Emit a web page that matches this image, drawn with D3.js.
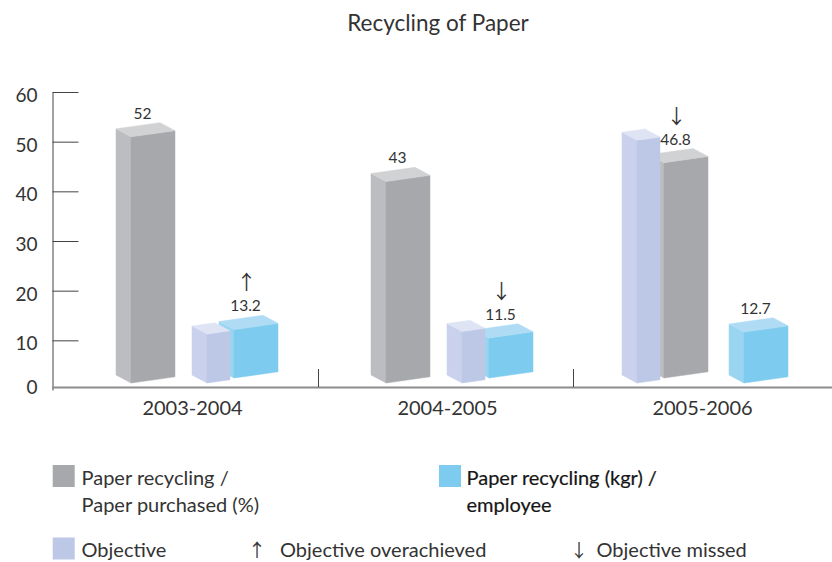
<!DOCTYPE html>
<html>
<head>
<meta charset="utf-8">
<script src="https://cdn.jsdelivr.net/npm/d3@7"></script>
<style>
  html, body { margin: 0; padding: 0; background: #fff; }
  svg { display: block; font-family: Lato, "DejaVu Sans", sans-serif; }
</style>
</head>
<body>
<svg id="chart" width="832" height="562"></svg>
<script>
// ---- data ----
const years = ["2003-2004", "2004-2005", "2005-2006"];
const paperPct = [52, 43, 46.8];        // paper recycling / paper purchased (%)
const paperKg = [13.2, 11.5, 12.7];     // paper recycling (kgr) / employee
const objectiveSeries = ["kg", "kg", "pct"];   // series each year's objective refers to
const objectiveValue = [12, 12.5, 51];
const yTicks = [0, 10, 20, 30, 40, 50, 60];

// ---- styles ----
const palette = {
  pct: { front: "#a7a8ab", side: "#bcbdc0", top: "#d1d2d4" },
  kg:  { front: "#7dcbee", side: "#99d5f1", top: "#afdcf4" },
  obj: { front: "#bdc8e6", side: "#c9d1ec", top: "#dfe4f5" }
};
const textColor = "#333";
const arrowFont = "'Noto Sans CJK SC', 'DejaVu Sans', sans-serif";

const svg = d3.select("#chart");
const W = 832, H = 562;
svg.append("rect").attr("width", W).attr("height", H).attr("fill", "#fff");

// ---- scales ----
const x = d3.scaleBand().domain(years).range([63, 828]);
const y = d3.scaleLinear().domain([0, 60]).range([390, 92]);

// box geometry (pseudo-3D)
const slope = 0.14;            // front face rises to the right
const depthX = 15, depthY = 8; // receding depth toward upper-left
const mainW = 44, objW = 23, gap = 4;
const floorLift = 7, backLift = 5;

// ---- title ----
svg.append("text")
  .attr("x", 438).attr("y", 31)
  .attr("text-anchor", "middle")
  .attr("font-size", 22.5).attr("fill", textColor)
  .text("Recycling of Paper");

// ---- axis ----
const axis = svg.append("g")
  .attr("transform", "translate(52.5,0)")
  .call(d3.axisLeft(y).tickValues(yTicks).tickSize(-26).tickPadding(15).tickSizeOuter(0));
axis.select(".domain").attr("stroke", "#444").attr("stroke-width", 1);
axis.selectAll(".tick line").attr("stroke", "#444").attr("stroke-width", 1)
  .filter(d => d === 0).remove();
axis.selectAll(".tick text")
  .attr("font-family", "Lato, sans-serif")
  .attr("font-size", 19).attr("fill", textColor)
  .attr("dy", d => d === 0 ? "0.18em" : "0.5em");

// baseline
svg.append("line")
  .attr("x1", 52).attr("x2", W)
  .attr("y1", 387.5).attr("y2", 387.5)
  .attr("stroke", "#8c8c8c").attr("stroke-width", 2);

// separators between years
svg.selectAll("line.sep").data(years.slice(1)).join("line")
  .attr("class", "sep")
  .attr("x1", d => x(d) + 0.5).attr("x2", d => x(d) + 0.5)
  .attr("y1", 369).attr("y2", 387)
  .attr("stroke", "#444").attr("stroke-width", 1);

// category labels
svg.selectAll("text.cat").data(years).join("text")
  .attr("class", "cat")
  .attr("x", d => x(d) + x.bandwidth() / 2 + 2)
  .attr("y", 415)
  .attr("text-anchor", "middle")
  .attr("font-size", 20).attr("fill", textColor)
  .text(d => d);

// ---- build boxes ----
const boxes = [];
years.forEach((yr, i) => {
  const band = x(yr);
  // percentage cluster
  const px = band + 64;
  if (objectiveSeries[i] === "pct") {
    boxes.push({ kind: "obj", value: objectiveValue[i], xf: px, w: objW, back: false });
    boxes.push({ kind: "pct", value: paperPct[i], xf: px + objW + gap, w: mainW, back: true,
                 label: true, arrow: paperPct[i] >= objectiveValue[i] ? "\u2191" : "\u2193" });
  } else {
    boxes.push({ kind: "pct", value: paperPct[i], xf: px + gap, w: mainW, back: false, label: true });
  }
  // kg cluster
  const kx = band + 171;
  if (objectiveSeries[i] === "kg") {
    boxes.push({ kind: "obj", value: objectiveValue[i], xf: kx - gap - objW, w: objW, back: false });
    boxes.push({ kind: "kg", value: paperKg[i], xf: kx, w: mainW, back: true,
                 label: true, arrow: paperKg[i] >= objectiveValue[i] ? "\u2191" : "\u2193" });
  } else {
    boxes.push({ kind: "kg", value: paperKg[i], xf: kx, w: mainW, back: false, label: true });
  }
});

// corner points of each box
boxes.forEach(b => {
  const yb = y(0) - floorLift - (b.back ? backLift : 0);
  const yt = y(b.value) + slope * b.w / 2 + depthY / 2 - 2;
  const FLB = [b.xf, yb], FRB = [b.xf + b.w, yb - slope * b.w];
  const FLT = [b.xf, yt], FRT = [b.xf + b.w, yt - slope * b.w];
  const sh = p => [p[0] - depthX, p[1] - depthY];
  b.faces = {
    side: [sh(FLB), FLB, FLT, sh(FLT)],
    front: [FLB, FRB, FRT, FLT],
    top: [FLT, FRT, sh(FRT), sh(FLT)]
  };
  b.cx = (sh(FLT)[0] + FRT[0]) / 2 - 3;
});

// back boxes first so the front ones overlap them
const order = boxes.slice().sort((a, b) => (b.back ? 1 : 0) - (a.back ? 1 : 0));
const line = d3.line();
const bg = svg.append("g");
order.forEach(b => {
  const g = bg.append("g");
  ["side", "front", "top"].forEach(f => {
    g.append("path")
      .attr("d", line(b.faces[f]) + "Z")
      .attr("fill", palette[b.kind][f])
      .attr("stroke", palette[b.kind][f])
      .attr("stroke-width", 0.5)
      .attr("stroke-linejoin", "round");
  });
});

// value labels and outcome arrows
const labelled = boxes.filter(b => b.label);
svg.selectAll("text.val").data(labelled).join("text")
  .attr("class", "val")
  .attr("x", b => b.cx).attr("y", b => y(b.value) - 13)
  .attr("text-anchor", "middle")
  .attr("font-size", 15.5).attr("fill", textColor)
  .text(b => b.value);

svg.selectAll("text.arrow").data(labelled.filter(b => b.arrow)).join("text")
  .attr("class", "arrow")
  .attr("x", b => b.cx + 1).attr("y", b => y(b.value) - 34)
  .attr("text-anchor", "middle")
  .attr("font-family", arrowFont)
  .attr("font-size", 20).attr("fill", textColor)
  .text(b => b.arrow);

// ---- legend ----
const legend = svg.append("g").attr("font-size", 20);
const swatch = (px, py, c) => legend.append("rect")
  .attr("x", px).attr("y", py).attr("width", 22).attr("height", 22).attr("fill", c);
const label = (px, py, t, strong) => {
  const tx = legend.append("text")
    .attr("x", px).attr("y", py).attr("fill", strong ? "#161616" : textColor).text(t);
  if (strong) tx.attr("stroke", "#161616").attr("stroke-width", 0.2);
  return tx;
};

swatch(52.7, 465, palette.pct.front);
label(81.5, 485, "Paper recycling /");
label(81.5, 511.5, "Paper purchased (%)");

swatch(439, 465, palette.kg.front);
label(466.5, 485, "Paper recycling (kgr) /", true);
label(466.5, 511.5, "employee", true);

const rowY = 557;
swatch(52.7, rowY - 19.5, palette.obj.front);
label(81.5, rowY, "Objective");

legend.append("text").attr("x", 257).attr("y", rowY)
  .attr("text-anchor", "middle").attr("font-family", arrowFont)
  .attr("font-size", 18).attr("fill", textColor).text("\u2191");
label(280, rowY, "Objective overachieved");

legend.append("text").attr("x", 579).attr("y", rowY)
  .attr("text-anchor", "middle").attr("font-family", arrowFont)
  .attr("font-size", 18).attr("fill", textColor).text("\u2193");
label(596.5, rowY, "Objective missed");
</script>
</body>
</html>
